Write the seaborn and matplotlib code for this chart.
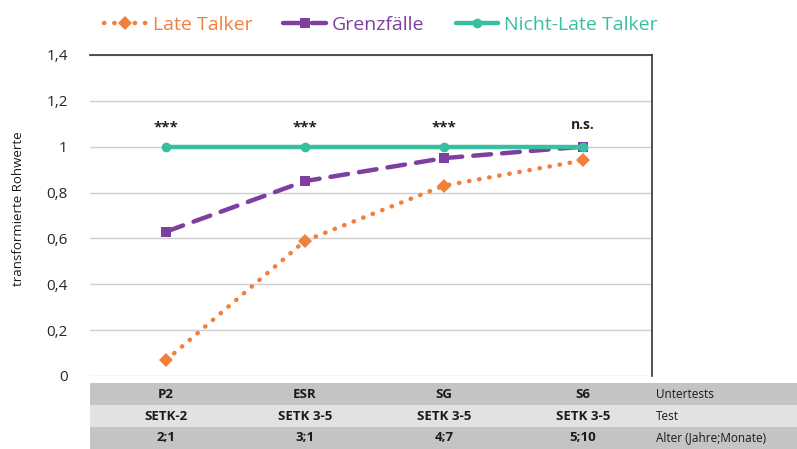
import seaborn as sns
import matplotlib.pyplot as plt
import pandas as pd
from matplotlib.patches import Rectangle

sns.set_theme(style="white")
plt.rcParams['font.family'] = ['Open Sans', 'DejaVu Sans']

untertests = ["P2", "ESR", "SG", "S6"]
tests = ["SETK-2", "SETK 3-5", "SETK 3-5", "SETK 3-5"]
alter = ["2;1", "3;1", "4;7", "5;10"]
row_labels = ["Untertests", "Test", "Alter (Jahre;Monate)"]
late_talker = [0.07, 0.59, 0.83, 0.94]
grenzfaelle = [0.63, 0.85, 0.95, 1.0]
nicht_late = [1.0, 1.0, 1.0, 1.0]
signif = ["***", "***", "***", "n.s."]

df = pd.DataFrame({
    "x": list(range(4)) * 3,
    "wert": late_talker + grenzfaelle + nicht_late,
    "gruppe": ["Late Talker"] * 4 + ["Grenzfälle"] * 4 + ["Nicht-Late Talker"] * 4,
})

colors = {"Late Talker": "#F0803C", "Grenzfälle": "#7E3FA0", "Nicht-Late Talker": "#36C0A0"}
markers = {"Late Talker": "D", "Grenzfälle": "s", "Nicht-Late Talker": "o"}
styles = {"Late Talker": (0, (0.1, 2.2)), "Grenzfälle": (0, (4, 2.5)), "Nicht-Late Talker": "-"}

fig = plt.figure(figsize=(7.97, 4.49), dpi=100)
ax = fig.add_axes([0.113, 0.1626, 0.705, 0.715])

for g in ["Late Talker", "Grenzfälle", "Nicht-Late Talker"]:
    sub = df[df["gruppe"] == g]
    sns.lineplot(data=sub, x="x", y="wert", ax=ax, color=colors[g], marker=markers[g],
                 markersize=7, markeredgewidth=0, linewidth=3.2, label=g,
                 linestyle=styles[g], dash_capstyle="round", clip_on=False, zorder=3)

for i, s in enumerate(signif):
    ax.text(i, 1.085 if s != "n.s." else 1.095, s, ha="center", va="center",
            fontsize=11 if s != "n.s." else 10, color="#222222", fontweight="bold")

ax.set_xlim(-0.55, 3.5)
ax.set_ylim(0, 1.4)
ax.set_yticks([0, 0.2, 0.4, 0.6, 0.8, 1.0, 1.2, 1.4])
ax.set_yticklabels(["0", "0,2", "0,4", "0,6", "0,8", "1", "1,2", "1,4"], fontsize=11)
ax.set_xticks([])
ax.set_xlabel("")
ax.set_ylabel("transformierte Rohwerte", fontsize=9.5, labelpad=12, color="#1a1a1a")
ax.yaxis.set_label_coords(-0.115, 0.52)
ax.yaxis.grid(True, color="#CFCFCF", linewidth=1)
ax.tick_params(axis="y", length=0, pad=16)
for side in ["left", "bottom"]:
    ax.spines[side].set_visible(False)
for side in ["top", "right"]:
    ax.spines[side].set_color("#333333")
    ax.spines[side].set_linewidth(1.2)

ax.get_legend().remove()
h, l = ax.get_legend_handles_labels()
fig.legend(h, l, loc="center", bbox_to_anchor=(0.478, 0.944), ncol=3, frameon=False,
           fontsize=14, labelcolor="linecolor", handlelength=2.2, columnspacing=1.6,
           handletextpad=0.3)

# table below the chart
W, H = 797, 449
row_tops = [383, 405, 427]
row_colors = ["#C4C4C4", "#E2E2E2", "#C4C4C4"]
x_pix = [166, 305, 444, 583]
for r, (top, rc) in enumerate(zip(row_tops, row_colors)):
    fig.patches.append(Rectangle((90 / W, 1 - (top + 22) / H), (W - 90) / W, 22 / H,
                                 transform=fig.transFigure, facecolor=rc, edgecolor="none"))
    vals = [untertests, tests, alter][r]
    yc = 1 - (top + 11) / H
    for xp, v in zip(x_pix, vals):
        fig.text(xp / W, yc, v, ha="center", va="center", fontsize=9.5,
                 fontweight="bold", color="#1a1a1a")
    fig.text(656 / W, yc, row_labels[r], ha="left", va="center", fontsize=8.5, color="#1a1a1a")

fig.savefig("out.png", dpi=100)
